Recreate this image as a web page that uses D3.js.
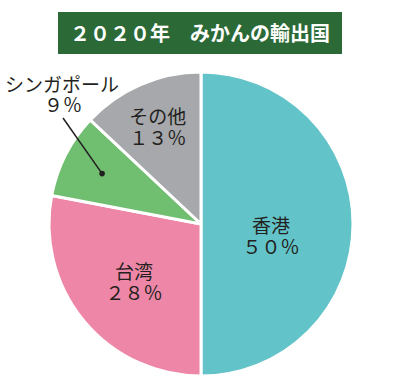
<!DOCTYPE html>
<html><head><meta charset="utf-8">
<script src="https://cdn.jsdelivr.net/npm/d3@7"></script>
<style>body{margin:0;background:#fff}svg{display:block}text{font-family:"Noto Sans CJK JP","Noto Sans",sans-serif}</style>
</head><body>
<svg id="c" width="400" height="391"></svg>
<script>
const title = "２０２０年　みかんの輸出国";
const categories = ["香港", "台湾", "シンガポール", "その他"];
const values = [50, 28, 9, 13];
const valueLabels = ["５０％", "２８％", "９％", "１３％"];
const colors = ["#62c3c8", "#ee87a7", "#70be6f", "#a6a8ab"];

const svg = d3.select("#c");
const cx = 201, cy = 224, R = 152;

// title
svg.append("rect").attr("x", 58).attr("y", 12).attr("width", 284).attr("height", 42).attr("fill", "#2b6a37");
svg.append("text").attr("x", 200).attr("y", 41).attr("text-anchor", "middle")
  .attr("fill", "#fff").attr("font-size", 20).attr("font-weight", "bold").text(title);

const pie = d3.pie().value(d => d).sort(null);
const arcs = pie(values);
const arc = d3.arc().innerRadius(0).outerRadius(R);
const g = svg.append("g").attr("transform", `translate(${cx},${cy})`);
g.selectAll("path").data(arcs).join("path")
  .attr("d", arc).attr("fill", (d, i) => colors[i])
  .attr("stroke", "#fff").attr("stroke-width", 3).attr("stroke-linejoin", "round");

const labelR = [70, 87, 111, 109];
const inside = [true, true, false, true];
arcs.forEach((d, i) => {
  const a = (d.startAngle + d.endAngle) / 2;
  const px = Math.sin(a) * labelR[i], py = -Math.cos(a) * labelR[i];
  if (inside[i]) {
    const t = g.append("text").attr("text-anchor", "middle").attr("fill", "#231f20").attr("font-size", 19);
    t.append("tspan").attr("x", px).attr("y", py + (i === 0 ? 9 : 0)).text(categories[i]);
    t.append("tspan").attr("x", px).attr("y", py + (i === 0 ? 9 : 0) + 21).text(valueLabels[i]);
  } else {
    // external label with leader line
    const lx = -139, ly = -131;
    g.append("line").attr("x1", px).attr("y1", py).attr("x2", lx + 1).attr("y2", ly + 25)
      .attr("stroke", "#231f20").attr("stroke-width", 1.5);
    g.append("circle").attr("cx", px).attr("cy", py).attr("r", 2.8).attr("fill", "#231f20");
    const t = g.append("text").attr("text-anchor", "middle").attr("fill", "#231f20").attr("font-size", 19);
    t.append("tspan").attr("x", lx).attr("y", ly - 1).text(categories[i]);
    t.append("tspan").attr("x", lx + 1).attr("y", ly + 19).text(valueLabels[i]);
  }
});
</script>
</body></html>
